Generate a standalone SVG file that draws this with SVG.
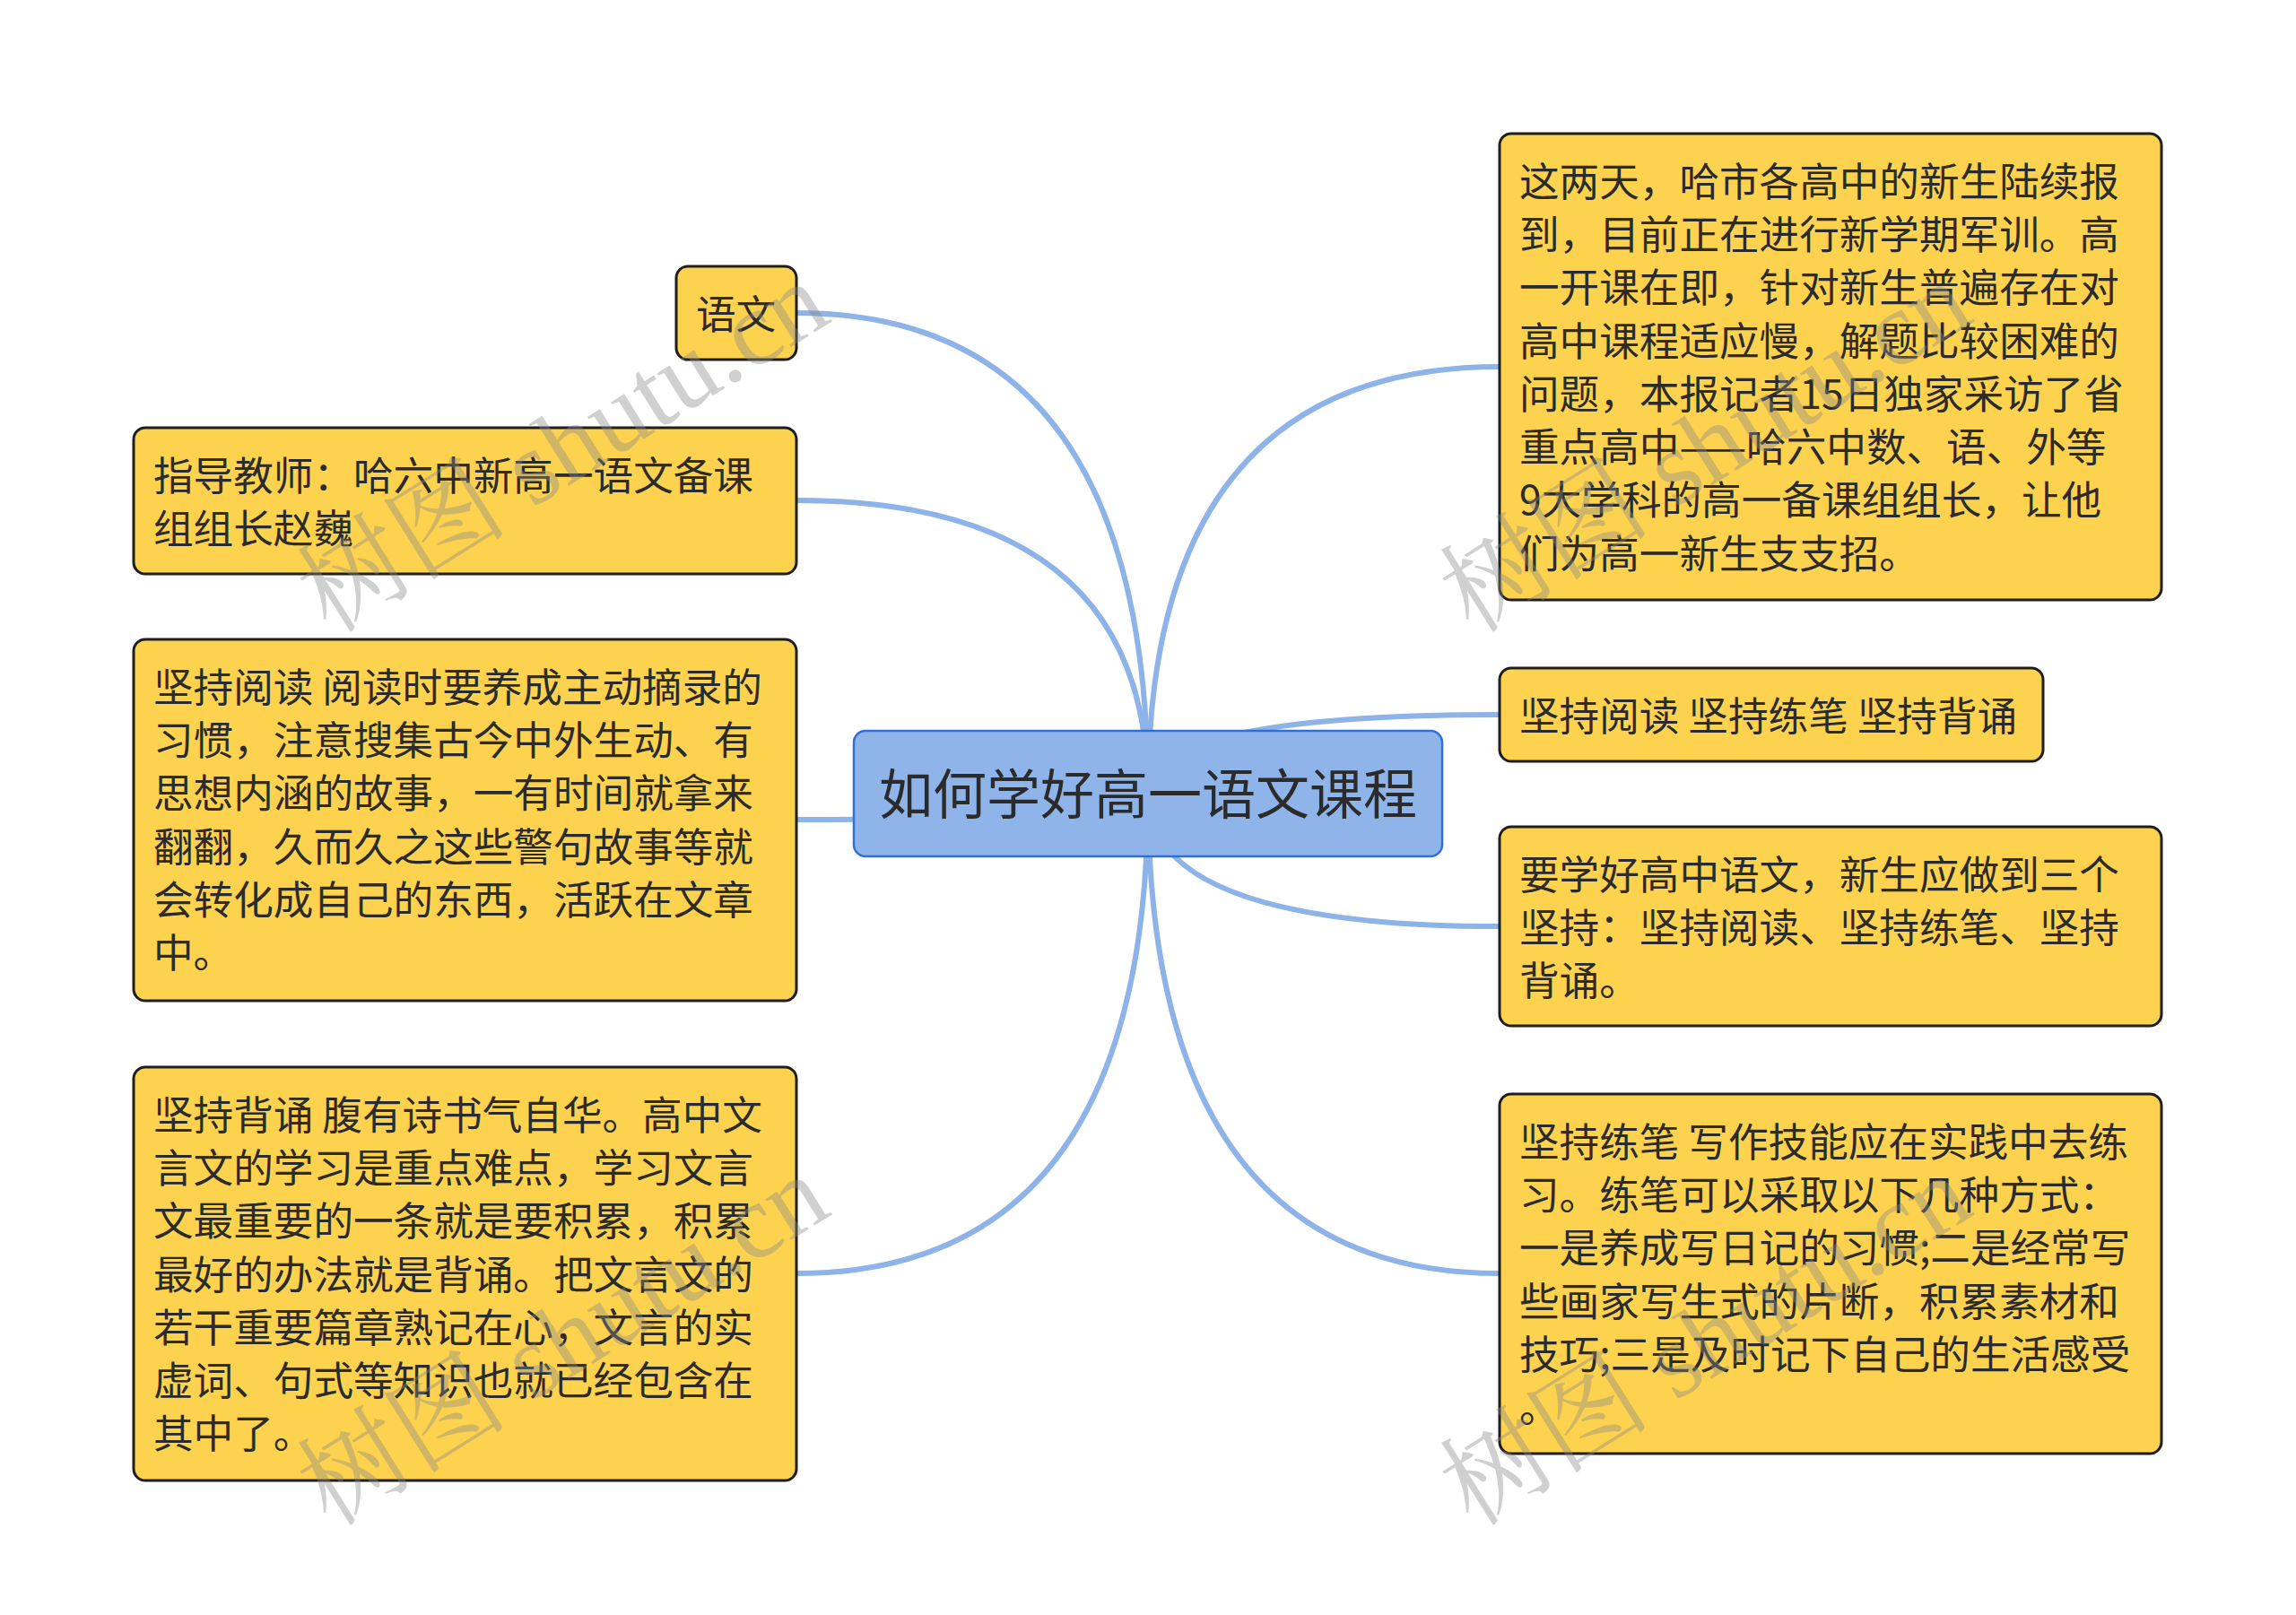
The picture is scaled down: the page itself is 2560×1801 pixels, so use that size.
<svg xmlns="http://www.w3.org/2000/svg" width="2560" height="1801" viewBox="0 0 2560 1801">
<style>
.conn{fill:none;stroke:#8EB3E8;stroke-width:6;stroke-linecap:round}
.node{fill:#FDD24F;stroke:#1E1E1E;stroke-width:3}
.root{fill:#8EB4EA;stroke:#2F6FD8;stroke-width:2.5}
.t{font-family:"Noto Sans CJK SC","Noto Sans",sans-serif;font-size:44.6px;fill:#2B2B2B}
.rt{font-family:"Noto Sans CJK SC","Noto Sans",sans-serif;font-size:60px;fill:#2B2B2B}
.wm{font-family:"Liberation Serif","Noto Serif CJK SC","Noto Sans CJK SC",serif;font-size:118px;fill:#8A8A8A;fill-opacity:0.4}
</style>
<rect width="2560" height="1801" fill="#FFFFFF"/>
<g id="connectors">
<path class="conn" d="M1280,885 Q1280,349 888,349"/>
<path class="conn" d="M1280,885 Q1280,558 888,558"/>
<path class="conn" d="M1280,885 Q1280,914 888,914"/>
<path class="conn" d="M1280,885 Q1280,1420 888,1420"/>
<path class="conn" d="M1280,885 Q1280,409 1672,409"/>
<path class="conn" d="M1280,885 Q1280,797 1672,797"/>
<path class="conn" d="M1280,885 Q1280,1033 1672,1033"/>
<path class="conn" d="M1280,885 Q1280,1420 1672,1420"/>
</g>
<g id="root">
<rect class="root" x="952" y="815" width="656" height="140" rx="13"/>
<text class="rt" x="1280" y="908" text-anchor="middle">如何学好高一语文课程</text>
</g>
<g id="n-yuwen">
<rect class="node" x="754" y="297" width="134" height="104" rx="13"/>
<text class="t" x="776" y="366.6">语文</text>
</g>
<g id="n-teacher">
<rect class="node" x="149" y="477" width="739" height="163" rx="13"/>
<text class="t" x="171" y="546.6"><tspan x="171">指导教师：哈六中新高一语文备课</tspan><tspan x="171" dy="59.3">组组长赵巍</tspan></text>
</g>
<g id="n-read">
<rect class="node" x="149" y="713" width="739" height="403" rx="13"/>
<text class="t" x="171" y="782.6"><tspan x="171">坚持阅读 阅读时要养成主动摘录的</tspan><tspan x="171" dy="59.3">习惯，注意搜集古今中外生动、有</tspan><tspan x="171" dy="59.3">思想内涵的故事，一有时间就拿来</tspan><tspan x="171" dy="59.3">翻翻，久而久之这些警句故事等就</tspan><tspan x="171" dy="59.3">会转化成自己的东西，活跃在文章</tspan><tspan x="171" dy="59.3">中。</tspan></text>
</g>
<g id="n-recite">
<rect class="node" x="149" y="1190" width="739" height="461" rx="13"/>
<text class="t" x="171" y="1259.6"><tspan x="171">坚持背诵 腹有诗书气自华。高中文</tspan><tspan x="171" dy="59.3">言文的学习是重点难点，学习文言</tspan><tspan x="171" dy="59.3">文最重要的一条就是要积累，积累</tspan><tspan x="171" dy="59.3">最好的办法就是背诵。把文言文的</tspan><tspan x="171" dy="59.3">若干重要篇章熟记在心，文言的实</tspan><tspan x="171" dy="59.3">虚词、句式等知识也就已经包含在</tspan><tspan x="171" dy="59.3">其中了。</tspan></text>
</g>
<g id="n-intro">
<rect class="node" x="1672" y="149" width="738" height="520" rx="13"/>
<text class="t" x="1694" y="218.6"><tspan x="1694">这两天，哈市各高中的新生陆续报</tspan><tspan x="1694" dy="59.3">到，目前正在进行新学期军训。高</tspan><tspan x="1694" dy="59.3">一开课在即，针对新生普遍存在对</tspan><tspan x="1694" dy="59.3">高中课程适应慢，解题比较困难的</tspan><tspan x="1694" dy="59.3">问题，本报记者15日独家采访了省</tspan><tspan x="1694" dy="59.3">重点高中——哈六中数、语、外等</tspan><tspan x="1694" dy="59.3">9大学科的高一备课组组长，让他</tspan><tspan x="1694" dy="59.3">们为高一新生支支招。</tspan></text>
</g>
<g id="n-three">
<rect class="node" x="1672" y="745" width="606" height="104" rx="13"/>
<text class="t" x="1694" y="814.6">坚持阅读 坚持练笔 坚持背诵</text>
</g>
<g id="n-must">
<rect class="node" x="1672" y="922" width="738" height="222" rx="13"/>
<text class="t" x="1694" y="991.6"><tspan x="1694">要学好高中语文，新生应做到三个</tspan><tspan x="1694" dy="59.3">坚持：坚持阅读、坚持练笔、坚持</tspan><tspan x="1694" dy="59.3">背诵。</tspan></text>
</g>
<g id="n-write">
<rect class="node" x="1672" y="1220" width="738" height="401" rx="13"/>
<text class="t" x="1694" y="1289.6"><tspan x="1694">坚持练笔 写作技能应在实践中去练</tspan><tspan x="1694" dy="59.3">习。练笔可以采取以下几种方式：</tspan><tspan x="1694" dy="59.3">一是养成写日记的习惯;二是经常写</tspan><tspan x="1694" dy="59.3">些画家写生式的片断，积累素材和</tspan><tspan x="1694" dy="59.3">技巧;三是及时记下自己的生活感受</tspan><tspan x="1694" dy="59.3">。</tspan></text>
</g>
<g id="watermarks">
<text class="wm" transform="translate(368,708) rotate(-32)">树图 shutu.cn</text>
<text class="wm" transform="translate(1642,708) rotate(-32)">树图 shutu.cn</text>
<text class="wm" transform="translate(368,1704) rotate(-32)">树图 shutu.cn</text>
<text class="wm" transform="translate(1642,1704) rotate(-32)">树图 shutu.cn</text>
</g>
</svg>
